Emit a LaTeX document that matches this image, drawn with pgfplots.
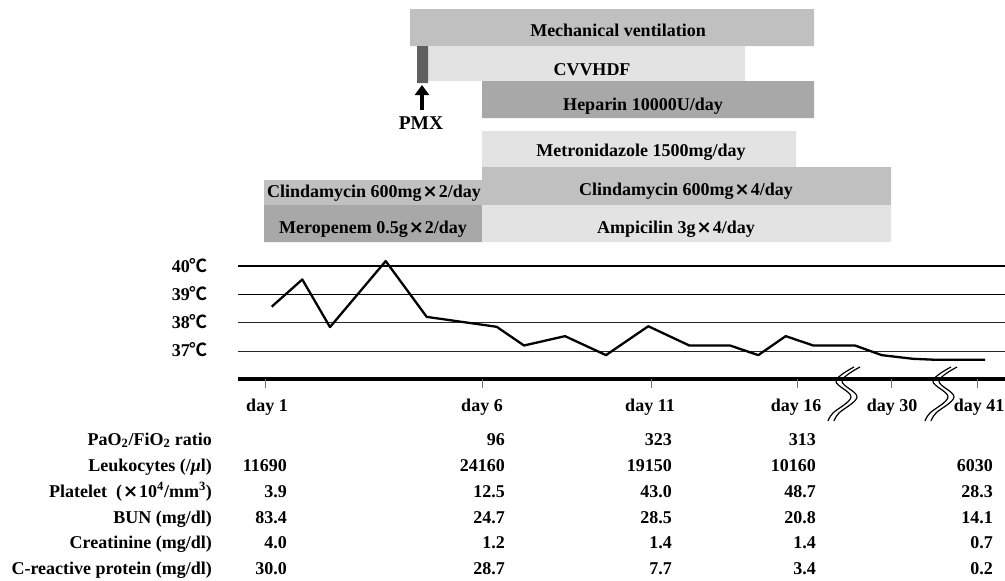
\documentclass[border=0pt]{standalone}
\usepackage{fontspec}
\setmainfont{Liberation Serif}
\newfontfamily\symfont{DejaVu Sans}
\newfontfamily\cjkfont{Noto Sans CJK JP}[BoldFont={Noto Sans CJK JP Bold}]
\usepackage{pgfplots}
\pgfplotsset{compat=1.18}
\usetikzlibrary{arrows.meta}
\definecolor{barlight}{HTML}{E3E3E3}
\definecolor{barmid}{HTML}{C0C0C0}
\definecolor{bardark}{HTML}{A8A8A8}
\definecolor{pmxcol}{HTML}{5F5F5F}
\newcommand{\degc}{{\cjkfont\bfseries ℃}}
\newcommand{\tms}{{\symfont\bfseries\kern1pt×\kern1pt}}
\newcommand{\gbar}[5]{\addplot[draw=none, fill=#5] coordinates {(#1,#3) (#2,#3) (#2,#4) (#1,#4) (#1,#3)};}
\begin{document}
\begin{tikzpicture}[x=1pt,y=1pt, every node/.style={font=\fontsize{18}{21}\selectfont\bfseries, inner sep=0pt}]
% ---------------- temperature chart ----------------
\begin{axis}[at={(238pt,201.5pt)}, anchor=south west, scale only axis,
  width=767pt, height=127.5pt, xmin=238, xmax=1005, ymin=36, ymax=40.5,
  hide axis, clip=false]
\draw[line width=1.6pt, black] (axis cs:238,40) -- (axis cs:1005,40);
\draw[line width=1.6pt, black] (axis cs:238,39) -- (axis cs:1005,39);
\draw[line width=1.3pt, black!85] (axis cs:238,38) -- (axis cs:1005,38);
\draw[line width=1.3pt, black!85] (axis cs:238,37) -- (axis cs:1005,37);
\draw[line width=4pt, black] (axis cs:238,36) -- (axis cs:1005,36);
\draw[line width=0.8pt, black!55] (axis cs:265,36) -- (axis cs:265,35.7);
\draw[line width=0.8pt, black!55] (axis cs:482,36) -- (axis cs:482,35.7);
\draw[line width=0.8pt, black!55] (axis cs:651,36) -- (axis cs:651,35.7);
\draw[line width=0.8pt, black!55] (axis cs:797,36) -- (axis cs:797,35.7);
\draw[line width=0.8pt, black!55] (axis cs:891,36) -- (axis cs:891,35.7);
\draw[line width=0.8pt, black!55] (axis cs:977,36) -- (axis cs:977,35.7);
\addplot[black, line width=2.3pt, line join=round] coordinates {
 (271.7,38.57) (302.3,39.53) (330,37.85) (385.7,40.18) (426.7,38.21)
 (496.7,37.86) (524,37.2) (565,37.53) (606,36.86) (648.3,37.88)
 (689.3,37.2) (730,37.2) (758.3,36.86) (785.7,37.53) (813.3,37.2)
 (855,37.2) (881.7,36.86) (913,36.73) (933,36.7) (985,36.7)};
\end{axis}
% ---------------- canvas: therapy bars and table ----------------
\begin{axis}[at={(0,0)}, anchor=south west, scale only axis,
  width=1005pt, height=581pt, xmin=0, xmax=1005, ymin=0, ymax=581,
  y dir=reverse, hide axis, clip=false]
\gbar{410}{814}{9}{46}{barmid}
\gbar{428}{745}{46}{81}{barlight}
\gbar{417}{428}{46}{83}{pmxcol}
\gbar{482}{814}{81}{118}{bardark}
\gbar{482}{796}{131}{167}{barlight}
\gbar{482}{891}{167}{205}{barmid}
\gbar{264}{482}{180}{205}{barmid}
\gbar{264}{482}{205}{242}{bardark}
\gbar{482}{891}{205}{242}{barlight}
\node[anchor=base] at (axis cs:618,36) {Mechanical ventilation};
\node[anchor=base] at (axis cs:592,75) {CVVHDF};
\node[anchor=base] at (axis cs:643,110) {Heparin 10000U/day};
\node[anchor=base] at (axis cs:641,156.5) {Metronidazole 1500mg/day};
\node[anchor=base] at (axis cs:686,195.5) {Clindamycin 600mg\tms4/day};
\node[anchor=base] at (axis cs:374,197) {Clindamycin 600mg\tms2/day};
\node[anchor=base] at (axis cs:373,233) {Meropenem 0.5g\tms2/day};
\node[anchor=base] at (axis cs:676,233) {Ampicilin 3g\tms4/day};
\draw[line width=4.2pt, -{Triangle[length=10pt,width=14pt]}] (axis cs:422,110) -- (axis cs:422,85);
\node[anchor=base, font=\fontsize{19.5}{22}\selectfont\bfseries] at (axis cs:421,129) {PMX};
% temperature labels
\node[anchor=base east] at (axis cs:208,272.3) {40\degc};
\node[anchor=base east] at (axis cs:208,300) {39\degc};
\node[anchor=base east] at (axis cs:208,328.3) {38\degc};
\node[anchor=base east] at (axis cs:208,356.6) {37\degc};
% axis breaks
\draw[line width=1.2pt] plot[smooth, tension=0.6] coordinates {(854,367) (836,381) (851,397) (833,413) (828,421)};
\draw[line width=1.2pt] plot[smooth, tension=0.6] coordinates {(860,367) (842,381) (857,397) (839,413) (834,421)};
\draw[line width=1.2pt] plot[smooth, tension=0.6] coordinates {(951,367) (933,381) (948,397) (930,413) (925,421)};
\draw[line width=1.2pt] plot[smooth, tension=0.6] coordinates {(957,367) (939,381) (954,397) (936,413) (931,421)};
% day labels
\node[anchor=base] at (axis cs:267,411.7) {day 1};
\node[anchor=base] at (axis cs:482,411.7) {day 6};
\node[anchor=base] at (axis cs:650,411.7) {day 11};
\node[anchor=base] at (axis cs:796,411.7) {day 16};
\node[anchor=base] at (axis cs:892,411.7) {day 30};
\node[anchor=base] at (axis cs:979,411.7) {day 41};
% table labels
\node[anchor=base east] at (axis cs:212,445) {PaO\textsubscript{2}/FiO\textsubscript{2} ratio};
\node[anchor=base east] at (axis cs:212,471) {Leukocytes (/\textit{μ}l)};
\node[anchor=base east] at (axis cs:212,497) {Platelet\ \ (\tms10\textsuperscript{4}/mm\textsuperscript{3})};
\node[anchor=base east] at (axis cs:212,523) {BUN (mg/dl)};
\node[anchor=base east] at (axis cs:212,548.5) {Creatinine (mg/dl)};
\node[anchor=base east] at (axis cs:212,574.5) {C-reactive protein (mg/dl)};
% table values: PaO2/FiO2
\node[anchor=base east] at (axis cs:505,445) {96};
\node[anchor=base east] at (axis cs:672,445) {323};
\node[anchor=base east] at (axis cs:816,445) {313};
% Leukocytes
\node[anchor=base east] at (axis cs:287,471) {11690};
\node[anchor=base east] at (axis cs:505,471) {24160};
\node[anchor=base east] at (axis cs:672,471) {19150};
\node[anchor=base east] at (axis cs:816,471) {10160};
\node[anchor=base east] at (axis cs:993,471) {6030};
% Platelet
\node[anchor=base east] at (axis cs:287,497) {3.9};
\node[anchor=base east] at (axis cs:505,497) {12.5};
\node[anchor=base east] at (axis cs:672,497) {43.0};
\node[anchor=base east] at (axis cs:816,497) {48.7};
\node[anchor=base east] at (axis cs:993,497) {28.3};
% BUN
\node[anchor=base east] at (axis cs:287,523) {83.4};
\node[anchor=base east] at (axis cs:505,523) {24.7};
\node[anchor=base east] at (axis cs:672,523) {28.5};
\node[anchor=base east] at (axis cs:816,523) {20.8};
\node[anchor=base east] at (axis cs:993,523) {14.1};
% Creatinine
\node[anchor=base east] at (axis cs:287,548.5) {4.0};
\node[anchor=base east] at (axis cs:505,548.5) {1.2};
\node[anchor=base east] at (axis cs:672,548.5) {1.4};
\node[anchor=base east] at (axis cs:816,548.5) {1.4};
\node[anchor=base east] at (axis cs:993,548.5) {0.7};
% CRP
\node[anchor=base east] at (axis cs:287,574.5) {30.0};
\node[anchor=base east] at (axis cs:505,574.5) {28.7};
\node[anchor=base east] at (axis cs:672,574.5) {7.7};
\node[anchor=base east] at (axis cs:816,574.5) {3.4};
\node[anchor=base east] at (axis cs:993,574.5) {0.2};
\end{axis}
\pgfresetboundingbox
\path[use as bounding box] (0,0) rectangle (1005,581);
\end{tikzpicture}
\end{document}
